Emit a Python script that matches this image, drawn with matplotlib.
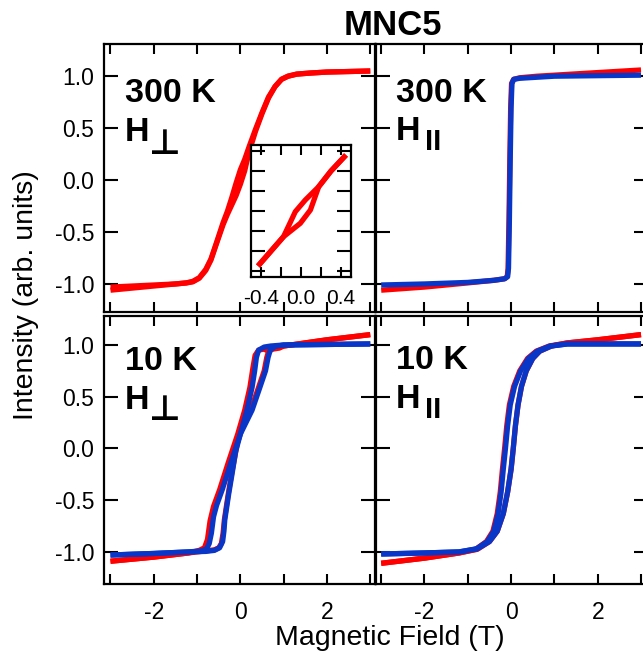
import matplotlib
matplotlib.use("Agg")
import matplotlib.pyplot as plt
from matplotlib.ticker import MultipleLocator, FormatStrFormatter

plt.rcParams['font.family'] = ['Liberation Sans', 'DejaVu Sans']
plt.rcParams['axes.unicode_minus'] = False

RED = '#ff0000'
BLUE = '#0a36c8'

# --- data (field in T, normalised intensity) ---

# 300 K, H perpendicular (red only, two sweep branches)
tl_field = [-3.0, -2.5, -2.0, -1.5, -1.25, -1.1, -0.95, -0.8, -0.68, -0.55, -0.4, -0.3, -0.2, -0.1,
            0.0, 0.1, 0.2, 0.35, 0.5, 0.65, 0.8, 0.95, 1.1, 1.3, 1.6, 2.0, 2.5, 3.0]
tl_red_dn = [-1.03, -1.02, -1.01, -1.0, -0.99, -0.975, -0.94, -0.86, -0.76, -0.6, -0.41, -0.3, -0.17, -0.03,
             0.1, 0.2, 0.32, 0.49, 0.65, 0.8, 0.9, 0.97, 1.0, 1.02, 1.03, 1.04, 1.045, 1.05]
tl_red_up = [-1.06, -1.04, -1.02, -1.0, -0.99, -0.98, -0.945, -0.87, -0.77, -0.61, -0.43, -0.33, -0.24, -0.15,
             -0.04, 0.09, 0.27, 0.47, 0.64, 0.79, 0.9, 0.97, 1.0, 1.02, 1.03, 1.04, 1.045, 1.05]

# inset (low-field zoom of 300 K, H perpendicular)
in_field_a = [-0.43, -0.175, -0.11, -0.057, 0.043, 0.177, 0.30, 0.45]
in_red_a = [-0.55, -0.257, -0.12, -0.007, 0.11, 0.243, 0.40, 0.56]
in_field_b = [-0.43, -0.175, -0.007, 0.094, 0.177, 0.30, 0.45]
in_red_b = [-0.55, -0.257, -0.123, 0.01, 0.243, 0.40, 0.56]

# 300 K, H parallel
tr_blue_f = [-3.0, -2.0, -1.0, -0.4, -0.15, -0.08, -0.06, -0.04, -0.02, 0.0, 0.02, 0.06, 0.2, 0.6, 1.0, 2.0, 3.0]
tr_blue_m = [-1.01, -1.0, -0.985, -0.965, -0.95, -0.93, -0.85, -0.4, 0.2, 0.7, 0.93, 0.97, 0.98, 0.99, 1.0, 1.005, 1.01]
tr_red_f = [-3.0, -2.0, -1.0, -0.4, -0.15, -0.09, -0.07, -0.05, -0.03, -0.01, 0.01, 0.06, 0.2, 0.6, 1.0, 2.0, 3.0]
tr_red_m = [-1.06, -1.03, -0.99, -0.965, -0.95, -0.93, -0.85, -0.4, 0.2, 0.7, 0.93, 0.97, 0.985, 1.0, 1.01, 1.035, 1.06]

# 10 K, H perpendicular
bl_blue_dn_f = [-3.0, -2.0, -1.2, -0.9, -0.78, -0.72, -0.67, -0.62, -0.55, -0.42, -0.23, 0.0, 0.15, 0.27,
                0.33, 0.37, 0.42, 0.55, 0.7, 1.0, 2.0, 3.0]
bl_blue_dn_m = [-1.03, -1.015, -1.0, -0.99, -0.97, -0.92, -0.82, -0.66, -0.55, -0.40, -0.15, 0.14, 0.37, 0.59,
                0.75, 0.88, 0.95, 0.98, 0.99, 1.0, 1.005, 1.01]
bl_blue_up_f = [-3.0, -2.0, -1.2, -0.8, -0.6, -0.48, -0.41, -0.38, -0.36, -0.27, -0.19, -0.11, 0.0, 0.27,
                0.45, 0.58, 0.64, 0.69, 0.8, 1.0, 2.0, 3.0]
bl_blue_up_m = [-1.03, -1.015, -1.0, -0.995, -0.985, -0.96, -0.9, -0.8, -0.69, -0.44, -0.24, -0.03, 0.14, 0.37,
                0.59, 0.75, 0.88, 0.95, 0.985, 1.0, 1.005, 1.01]
bl_red_dn_f = [-3.0, -2.0, -1.2, -0.95, -0.83, -0.76, -0.7, -0.62, -0.48, -0.29, -0.06, 0.1, 0.22, 0.29,
               0.34, 0.42, 0.55, 0.65, 0.75, 0.9, 1.0, 2.0, 3.0]
bl_red_dn_m = [-1.09, -1.05, -1.01, -0.985, -0.96, -0.88, -0.7, -0.56, -0.4, -0.15, 0.14, 0.37, 0.59, 0.78,
               0.9, 0.95, 0.96, 0.94, 0.96, 0.97, 0.99, 1.05, 1.10]
bl_red_up_f = [-3.0, -2.0, -1.2, -0.8, -0.6, -0.5, -0.44, -0.4, -0.37, -0.28, -0.2, -0.03, 0.24, 0.42,
               0.55, 0.61, 0.66, 0.8, 1.0, 2.0, 3.0]
bl_red_up_m = [-1.09, -1.05, -1.01, -0.99, -0.98, -0.96, -0.92, -0.82, -0.69, -0.44, -0.24, 0.14, 0.37, 0.59,
               0.75, 0.88, 0.95, 0.975, 0.99, 1.05, 1.10]

# 10 K, H parallel
br_blue_dn_f = [-3.0, -2.0, -1.2, -0.8, -0.55, -0.4, -0.3, -0.23, -0.18, -0.13, -0.08, -0.02, 0.08, 0.22,
                0.4, 0.6, 0.9, 1.3, 2.0, 3.0]
br_blue_up_f = [-3.0, -2.0, -1.2, -0.78, -0.5, -0.32, -0.18, -0.08, 0.0, 0.05, 0.1, 0.16, 0.24, 0.35,
                0.5, 0.66, 0.93, 1.3, 2.0, 3.0]
br_blue_m = [-1.02, -1.01, -1.0, -0.97, -0.9, -0.8, -0.63, -0.42, -0.2, 0.0, 0.22, 0.42, 0.6, 0.75,
             0.87, 0.94, 0.99, 1.01, 1.01, 1.01]
br_red_dn_f = [-3.0, -2.0, -1.2, -0.82, -0.57, -0.42, -0.32, -0.25, -0.2, -0.15, -0.1, -0.04, 0.06, 0.2,
               0.38, 0.58, 0.88, 1.3, 2.0, 3.0]
br_red_up_f = [-3.0, -2.0, -1.2, -0.78, -0.5, -0.32, -0.18, -0.08, 0.0, 0.05, 0.1, 0.16, 0.24, 0.35,
               0.5, 0.66, 0.93, 1.3, 2.0, 3.0]
br_red_m = [-1.11, -1.06, -1.01, -0.975, -0.9, -0.8, -0.63, -0.42, -0.2, 0.0, 0.22, 0.42, 0.6, 0.75,
            0.87, 0.94, 0.99, 1.02, 1.05, 1.10]

# --- figure ---
W, H = 643, 662
fig = plt.figure(figsize=(W / 100, H / 100), dpi=100)


def px_axes(x0, y0, x1, y1):
    # rectangle given in pixel coords (origin top-left)
    return fig.add_axes([x0 / W, (H - y1) / H, (x1 - x0) / W, (y1 - y0) / H])


ax_tl = px_axes(104, 44, 374.6, 312)
ax_tr = px_axes(376, 44, 647.5, 312)
ax_bl = px_axes(104, 316, 374.6, 584)
ax_br = px_axes(376, 316, 647.5, 584)

for ax in (ax_tl, ax_tr, ax_bl, ax_br):
    for s in ax.spines.values():
        s.set_linewidth(1.6)
    ax.xaxis.set_major_locator(MultipleLocator(2))
    ax.xaxis.set_minor_locator(MultipleLocator(1))
    ax.yaxis.set_major_locator(MultipleLocator(0.5))
    ax.yaxis.set_major_formatter(FormatStrFormatter('%.1f'))
    ax.tick_params(which='both', direction='in', top=True, right=True, width=1.5, labelsize=16.5)
    ax.tick_params(axis='x', which='both', length=7, pad=12)
    ax.tick_params(axis='y', which='both', length=10, pad=7)

ax_tl.set_xlim(-3.15, 3.1)
ax_bl.set_xlim(-3.15, 3.1)
ax_tr.set_xlim(-3.12, 3.15)
ax_br.set_xlim(-3.12, 3.15)
ax_tl.set_ylim(-1.27, 1.31)
ax_tr.set_ylim(-1.27, 1.31)
ax_bl.set_ylim(-1.31, 1.28)
ax_br.set_ylim(-1.31, 1.28)

for ax in (ax_tl, ax_tr):
    ax.tick_params(labelbottom=False)
for ax in (ax_tr, ax_br):
    ax.tick_params(labelleft=False)

lw = 3.8
kw = dict(lw=lw, solid_capstyle='butt', solid_joinstyle='round')

ax_tl.plot(tl_field, tl_red_up, color=RED, **kw)
ax_tl.plot(tl_field, tl_red_dn, color=RED, **kw)

ax_tr.plot(tr_red_f, tr_red_m, color=RED, **kw)
ax_tr.plot(tr_blue_f, tr_blue_m, color=BLUE, **kw)

ax_bl.plot(bl_red_dn_f, bl_red_dn_m, color=RED, **kw)
ax_bl.plot(bl_red_up_f, bl_red_up_m, color=RED, **kw)
ax_bl.plot(bl_blue_dn_f, bl_blue_dn_m, color=BLUE, **kw)
ax_bl.plot(bl_blue_up_f, bl_blue_up_m, color=BLUE, **kw)

ax_br.plot(br_red_dn_f, br_red_m, color=RED, **kw)
ax_br.plot(br_red_up_f, br_red_m, color=RED, **kw)
ax_br.plot(br_blue_dn_f, br_blue_m, color=BLUE, **kw)
ax_br.plot(br_blue_up_f, br_blue_m, color=BLUE, **kw)

# panel labels
big = dict(fontsize=24.5, fontweight='bold', va='baseline', ha='left')
perp = dict(fontsize=25, fontweight='bold', va='baseline', ha='left', family=['DejaVu Sans'])
para = dict(fontsize=21, fontweight='bold', va='baseline', ha='left')

ax_tl.text(0.078, 0.785, '300 K', transform=ax_tl.transAxes, **big)
ax_tl.text(0.078, 0.638, 'H', transform=ax_tl.transAxes, **big)
ax_tl.text(0.168, 0.588, '⊥', transform=ax_tl.transAxes, **perp)

ax_tr.text(0.074, 0.785, '300 K', transform=ax_tr.transAxes, **big)
ax_tr.text(0.074, 0.642, 'H', transform=ax_tr.transAxes, **big)
ax_tr.text(0.180, 0.605, 'II', transform=ax_tr.transAxes, **para)

ax_bl.text(0.078, 0.798, '10 K', transform=ax_bl.transAxes, **big)
ax_bl.text(0.078, 0.652, 'H', transform=ax_bl.transAxes, **big)
ax_bl.text(0.168, 0.612, '⊥', transform=ax_bl.transAxes, **perp)

ax_br.text(0.074, 0.801, '10 K', transform=ax_br.transAxes, **big)
ax_br.text(0.074, 0.656, 'H', transform=ax_br.transAxes, **big)
ax_br.text(0.180, 0.620, 'II', transform=ax_br.transAxes, **para)

# inset
ax_in = px_axes(251, 145, 351, 277)
ax_in.set_zorder(5)
for s in ax_in.spines.values():
    s.set_linewidth(1.6)
ax_in.plot(in_field_a, in_red_a, color=RED, **kw)
ax_in.plot(in_field_b, in_red_b, color=RED, **kw)
ax_in.set_xlim(-0.5, 0.5)
ax_in.set_ylim(-0.66, 0.66)
ax_in.xaxis.set_major_locator(MultipleLocator(0.4))
ax_in.xaxis.set_minor_locator(MultipleLocator(0.2))
ax_in.xaxis.set_major_formatter(FormatStrFormatter('%.1f'))
ax_in.yaxis.set_major_locator(MultipleLocator(0.2))
ax_in.tick_params(which='both', direction='in', top=True, right=True, width=1.5,
                  labelsize=15, labelleft=False)
ax_in.tick_params(axis='x', which='both', length=7, pad=9)
ax_in.tick_params(axis='y', which='both', length=10)

# titles and axis labels
fig.text(392.5 / W, (H - 35) / H, 'MNC5', fontsize=25, fontweight='bold', ha='center', va='baseline')
fig.text(390 / W, (H - 645) / H, 'Magnetic Field (T)', fontsize=20.5, ha='center', va='baseline')
fig.text(26 / W, (H - 295) / H, 'Intensity (arb. units)', fontsize=20.5, rotation=90,
         ha='center', va='center')

fig.savefig('out.png', dpi=100)
